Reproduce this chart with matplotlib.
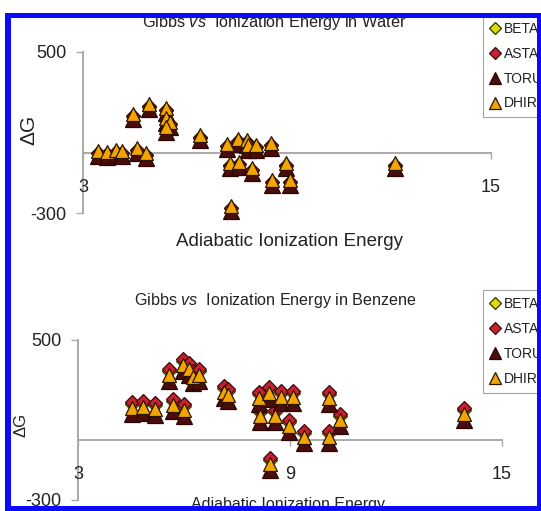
import matplotlib
matplotlib.use("Agg")
import matplotlib.pyplot as plt
from matplotlib.patches import Rectangle

plt.rcParams['font.family'] = ['Liberation Sans', 'DejaVu Sans']
plt.rcParams['mathtext.fontset'] = 'custom'
plt.rcParams['mathtext.rm'] = 'Liberation Sans'
plt.rcParams['mathtext.it'] = 'Liberation Sans:italic'
plt.rcParams['axes.unicode_minus'] = False

W, H = 541, 511

series_names = ['BETA', 'ASTA', 'TORU', 'DHIR']

# ---- Water: adiabatic ionization energy vs Gibbs energy ----
water_ie = [3.44, 3.71, 3.97, 4.15, 4.59, 4.86, 4.47, 4.95, 5.45, 5.45, 5.56, 5.45,
            6.45, 7.25, 7.57, 7.81, 7.84, 8.10, 8.54, 7.33, 7.60, 7.98, 8.98, 8.57,
            9.10, 7.36, 12.17]
water_beta = [0, -5, 5, 0, 15, -10, 184, 233, 214, 164, 144, 119, 79, 35, 60, 55, 30,
              30, 40, -60, -55, -84, -60, -144, -144, -273, -60]
water_asta = [-4, -9, 1, -4, 11, -14, 180, 229, 210, 160, 140, 115, 75, 31, 56, 51, 26,
              26, 36, -64, -59, -88, -64, -148, -148, -277, -64]
water_toru = [-17, -22, -12, -17, -2, -27, 167, 216, 197, 147, 127, 102, 62, 18, 43, 38,
              13, 13, 23, -77, -72, -101, -77, -161, -161, -290, -77]
water_dhir = [8, 3, 13, 8, 23, -2, 192, 241, 222, 172, 152, 127, 87, 43, 68, 63, 38, 38,
              48, -52, -47, -76, -52, -136, -136, -265, -52]

# ---- Benzene ----
benz_ie = [4.53, 4.84, 5.18, 5.69, 6.00, 5.58, 5.97, 6.14, 6.26, 6.42, 7.13, 7.25, 8.12,
           8.41, 8.75, 9.09, 8.15, 8.58, 8.97, 9.40, 10.10, 10.42, 10.10, 8.43, 13.93]
benz_beta = [182, 187, 177, 197, 172, 347, 397, 377, 337, 347, 262, 247, 232, 257, 237,
             237, 142, 142, 92, 37, 232, 122, 37, -98, 152]
benz_asta = [190, 195, 185, 205, 180, 355, 405, 385, 345, 355, 270, 255, 240, 265, 245,
             245, 150, 150, 100, 45, 240, 130, 45, -90, 160]
benz_toru = [132, 137, 127, 147, 122, 297, 347, 327, 287, 297, 212, 197, 182, 207, 187,
             187, 92, 92, 42, -13, 182, 72, -13, -148, 102]
benz_dhir = [160, 165, 155, 175, 150, 325, 375, 355, 315, 325, 240, 225, 210, 235, 215,
             215, 120, 120, 70, 15, 210, 100, 15, -120, 130]

y_ticks = [-300, 500]
y_ticklabels = ['-300', '500']
water_xticks = [3, 15]
benz_xticks = [3, 9, 15]

GRAY = '#aaaaaa'
TXT = '#222222'

styles = {
    'BETA': dict(marker='D', mfc='#d8e000', mec='#3a3000', ms=7.5),
    'ASTA': dict(marker='D', mfc='#c8202e', mec='#3a0a0a', ms=7.5),
    'TORU': dict(marker='^', mfc='#4a0c0c', mec='#2a0505', ms=11),
    'DHIR': dict(marker='^', mfc='#f2a400', mec='#2a1400', ms=10),
}


def px_axes(x0, x1, y_top, y_bot):
    return [x0 / W, 1 - y_bot / H, (x1 - x0) / W, (y_bot - y_top) / H]


fig = plt.figure(figsize=(W / 100, H / 100), dpi=100)
fig.patch.set_facecolor('white')


def draw_panel(rect, ie, vals, xticks, tick_size):
    ax = fig.add_axes(rect)
    ax.patch.set_alpha(0)
    lines = []
    for name, v in zip(series_names, vals):
        st = styles[name]
        ln, = ax.plot(ie, v, ls='none', marker=st['marker'], ms=st['ms'],
                      mfc=st['mfc'], mec=st['mec'], mew=0.9, clip_on=False,
                      label=name, zorder=3)
        lines.append(ln)
    ax.set_xlim(3, 15)
    ax.set_ylim(-300, 500)
    for s in ['top', 'right']:
        ax.spines[s].set_visible(False)
    ax.spines['bottom'].set_position(('data', 0))
    ax.spines['left'].set_position(('data', 3))
    for s in ['bottom', 'left']:
        ax.spines[s].set_color(GRAY)
        ax.spines[s].set_linewidth(1.4)
        ax.spines[s].set_zorder(1)
    ax.set_xticks(xticks)
    ax.set_xticklabels([str(t) for t in xticks])
    ax.set_yticks(y_ticks)
    ax.set_yticklabels(y_ticklabels)
    ax.tick_params(axis='x', direction='out', length=4, width=1, color=GRAY,
                   pad=15, labelsize=tick_size, labelcolor=TXT)
    ax.tick_params(axis='y', direction='out', length=5, width=1, color=GRAY,
                   pad=7, labelsize=tick_size, labelcolor=TXT)
    return ax, lines


ax1, lines1 = draw_panel(px_axes(83, 491, 52, 213), water_ie,
                         [water_beta, water_asta, water_toru, water_dhir],
                         water_xticks, 13)
ax2, lines2 = draw_panel(px_axes(78, 502, 340, 500), benz_ie,
                         [benz_beta, benz_asta, benz_toru, benz_dhir],
                         benz_xticks, 13)


def ftext(x, y, s, **kw):
    fig.text(x / W, 1 - y / H, s, ha='center', va='center', color=TXT, **kw)


ftext(274, 22, r'Gibbs $\mathit{vs}$  Ionization Energy in Water', fontsize=11.7)
ftext(289, 241, 'Adiabatic Ionization Energy', fontsize=13.5)
ftext(29, 130, 'ΔG', fontsize=15, rotation=90)

ftext(275, 300, r'Gibbs $\mathit{vs}$  Ionization Energy in Benzene', fontsize=11.6)
ftext(288, 505, 'Adiabatic Ionization Energy', fontsize=11.5)
ftext(21, 425, 'ΔG', fontsize=12, rotation=90)

for lines, ytop, spacing in [(lines1, 15, 0.78), (lines2, 290, 0.8)]:
    leg = fig.legend(lines, series_names, loc='upper left',
                     bbox_to_anchor=(483 / W, 1 - ytop / H), frameon=True,
                     fancybox=False, edgecolor='#8c8c8c', fontsize=10,
                     markerscale=0.8, handlelength=0.7, handletextpad=0.3,
                     labelspacing=spacing, borderpad=0.5, borderaxespad=0)
    leg.get_frame().set_linewidth(0.8)
    for t in leg.get_texts():
        t.set_color(TXT)

# blue frame around the figure
BLUE = '#0a0aff'
for (x0, y0, x1, y1) in [(5, 13, 541, 18), (5, 13, 11, 511), (537, 13, 541, 511),
                         (5, 506, 541, 511)]:
    fig.add_artist(Rectangle((x0 / W, 1 - y1 / H), (x1 - x0) / W, (y1 - y0) / H,
                             transform=fig.transFigure, facecolor=BLUE,
                             edgecolor='none', zorder=100))

fig.savefig('out.png', dpi=100)
